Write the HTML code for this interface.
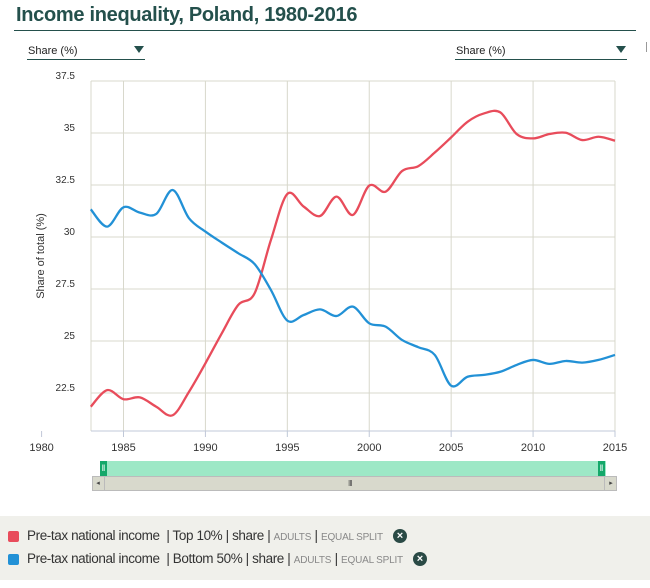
<!DOCTYPE html>
<html><head><meta charset="utf-8"><style>
body{margin:0;width:650px;height:588px;background:#fff;font-family:"Liberation Sans",sans-serif;position:relative;overflow:hidden}
.abs{position:absolute}
.title{left:16px;top:4px;font-size:20px;font-weight:bold;color:#24504c;letter-spacing:-0.3px}
.dd{font-size:11px;color:#222;top:45px}
.leg{font-size:13.5px;color:#333;white-space:nowrap;letter-spacing:-0.4px}
.sm{font-size:10px;color:#888;letter-spacing:-0.2px}
.x{display:inline-block;vertical-align:middle;margin-left:10px;width:14px;height:14px;border-radius:50%;background:#2a4a45;color:#fff;font-size:11px;font-weight:bold;text-align:center;line-height:14px;letter-spacing:0}
</style></head><body>
<div class="abs title">Income inequality, Poland, 1980-2016</div>
<div class="abs" style="left:14px;top:30px;width:622px;height:1px;background:#24504c"></div>
<div class="abs dd" style="left:28px">Share (%)</div>
<div class="abs" style="left:134px;top:46px;width:0;height:0;border-left:5px solid transparent;border-right:5px solid transparent;border-top:7px solid #24504c"></div>
<div class="abs" style="left:27px;top:59px;width:118px;height:1px;background:#24504c"></div>
<div class="abs dd" style="left:456px">Share (%)</div>
<div class="abs" style="left:616px;top:46px;width:0;height:0;border-left:5px solid transparent;border-right:5px solid transparent;border-top:7px solid #24504c"></div>
<div class="abs" style="left:455px;top:59px;width:172px;height:1px;background:#24504c"></div>
<div class="abs" style="left:646px;top:42px;width:1px;height:10px;background:#999"></div>

<svg class="abs" style="left:0;top:0" width="650" height="500" id="chart"></svg>

<div class="abs" style="left:92px;top:476px;width:523px;height:13px;background:#d8d9cc;border:1px solid #bbb"></div>
<div class="abs" style="left:92px;top:477px;width:12px;height:13px;border-right:1px solid #bbb;font-size:7px;color:#444;text-align:center;line-height:13px">◂</div>
<div class="abs" style="left:604px;top:477px;width:12px;height:13px;border-left:1px solid #bbb;font-size:7px;color:#444;text-align:center;line-height:13px">▸</div>
<div class="abs" style="left:348px;top:479px;font-size:8px;color:#555;letter-spacing:-1px">III</div>
<div class="abs" style="left:100px;top:461px;width:506px;height:15px;background:#9de8c6"></div>
<div class="abs" style="left:100px;top:461px;width:7px;height:15px;background:#14a86a;color:#fff;font-size:9px;text-align:center;line-height:15px">‖</div>
<div class="abs" style="left:598px;top:461px;width:7px;height:15px;background:#14a86a;color:#fff;font-size:9px;text-align:center;line-height:15px">‖</div>

<div class="abs" style="left:0;top:516px;width:650px;height:64px;background:#f0f0eb">
  <div class="abs" style="left:8px;top:15px;width:11px;height:11px;background:#e84c5b;border-radius:2px"></div>
  <div class="abs leg" style="left:27px;top:12px">Pre-tax national income &nbsp;| Top 10% | share | <span class="sm">ADULTS</span> | <span class="sm">EQUAL SPLIT</span><span class="x">×</span></div>
  <div class="abs" style="left:8px;top:38px;width:11px;height:11px;background:#2291d6;border-radius:2px"></div>
  <div class="abs leg" style="left:27px;top:35px">Pre-tax national income &nbsp;| Bottom 50% | share | <span class="sm">ADULTS</span> | <span class="sm">EQUAL SPLIT</span><span class="x">×</span></div>
</div>

<script>
const years=[1983,1984,1985,1986,1987,1988,1989,1990,1991,1992,1993,1994,1995,1996,1997,1998,1999,2000,2001,2002,2003,2004,2005,2006,2007,2008,2009,2010,2011,2012,2013,2014,2015];
const top10=[21.84,22.64,22.2,22.29,21.84,21.43,22.56,23.93,25.37,26.73,27.29,29.86,32.07,31.46,31.01,31.94,31.06,32.47,32.18,33.17,33.41,34.06,34.79,35.54,35.94,35.99,34.95,34.74,34.95,35.01,34.66,34.82,34.63];
const bottom50=[31.33,30.5,31.43,31.17,31.11,32.26,30.9,30.26,29.73,29.22,28.7,27.45,25.98,26.25,26.52,26.2,26.65,25.85,25.69,25.05,24.7,24.33,22.85,23.28,23.37,23.52,23.85,24.09,23.9,24.04,23.96,24.09,24.33];
const yTicks=[22.5,25,27.5,30,32.5,35,37.5];
const xTicks=[1980,1985,1990,1995,2000,2005,2010,2015];

const svg=document.getElementById('chart');
const NS='http://www.w3.org/2000/svg';
const X=y=>123.5+(y-1985)*16.383;
const Y=v=>81+(37.5-v)*20.8;
const L=91,R=615,T=81,B=431;
function mk(tag,attrs){const e=document.createElementNS(NS,tag);for(const k in attrs)e.setAttribute(k,attrs[k]);svg.appendChild(e);return e;}
yTicks.forEach(v=>{
  if(v<37.5){const g=mk('line',{x1:L,x2:R,y1:Y(v),y2:Y(v),stroke:'#d8d8cc','stroke-width':1});
  
  }
  const t=mk('text',{x:75,y:Y(v)-2,'text-anchor':'end','font-size':10,fill:'#333','font-family':'Liberation Sans'});
  t.textContent=v;
  
  
});
xTicks.forEach(yr=>{
  const x=X(yr);
  if(yr>=1985){const g=mk('line',{x1:x,x2:x,y1:T,y2:B,stroke:'#d8d8cc','stroke-width':1});
  
  }
  const tk=mk('line',{x1:x,x2:x,y1:B,y2:B+6,stroke:'#c0c8d8'});
  
  
  const t=mk('text',{x:Math.min(x,632),y:451,'text-anchor':'middle','font-size':11,fill:'#333','font-family':'Liberation Sans'});
  t.textContent=yr;
  
  
});
const topBorder=mk('line',{x1:L,x2:R,y1:T,y2:T,stroke:'#d8d8cc'});


const leftBorder=mk('line',{x1:L,x2:L,y1:T,y2:B,stroke:'#d8d8cc'});


const xAxisLine=mk('line',{x1:L,x2:R,y1:B,y2:B,stroke:'#c0c8d8'});


const yTitle=mk('text',{x:0,y:0,transform:'translate(44,256) rotate(-90)','text-anchor':'middle','font-size':11,fill:'#333','font-family':'Liberation Sans'});
yTitle.textContent='Share of total (%)';


function path(vals){
  const p=vals.map((v,i)=>[X(years[i]),Y(v)]);
  let d='M'+p[0][0]+','+p[0][1];
  for(let i=0;i<p.length-1;i++){
    const p0=p[i-1]||p[i],p1=p[i],p2=p[i+1],p3=p[i+2]||p[i+1];
    const c1=[p1[0]+(p2[0]-p0[0])/6,p1[1]+(p2[1]-p0[1])/6];
    const c2=[p2[0]-(p3[0]-p1[0])/6,p2[1]-(p3[1]-p1[1])/6];
    d+=' C'+c1+' '+c2+' '+p2;
  }
  return d;
}
const s1=mk('path',{d:path(top10),fill:'none',stroke:'#e84c5b','stroke-width':2.3});


const s2=mk('path',{d:path(bottom50),fill:'none',stroke:'#2291d6','stroke-width':2.3});


</script>
</body></html>
